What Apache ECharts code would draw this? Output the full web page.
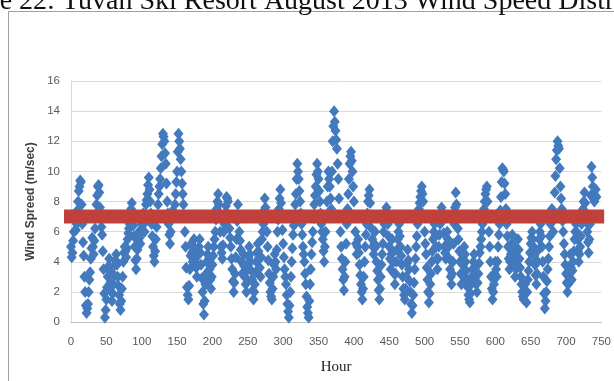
<!DOCTYPE html>
<html>
<head>
<meta charset="utf-8">
<script src="https://cdn.jsdelivr.net/npm/echarts@6/dist/echarts.min.js"></script>
<style>
  html, body { margin: 0; padding: 0; background: #ffffff; }
  #chart { width: 614px; height: 381px; }
</style>
</head>
<body>
<div id="chart"></div>
<script>
// Hourly wind speed (m/sec) for August, hour 0 onward
const speeds = [
  5.0, 4.3, 4.6, 5.4, 6.0, 6.8, 7.2, 6.1, 6.5, 7.4, 8.0, 8.7, 9.0, 9.4, 9.3, 7.8, 6.5, 5.3, 4.4, 3.0,
  2.0, 1.1, 0.6, 0.9, 1.2, 2.0, 2.8, 3.3, 4.2, 4.9, 5.6, 5.0, 4.5, 5.4, 6.2, 7.1, 7.8, 8.4, 9.0, 9.1,
  8.6, 7.6, 7.0, 6.3, 5.8, 4.7, 3.5, 1.9, 0.3, 0.8, 1.5, 2.3, 3.0, 3.7, 4.2, 3.4, 2.6, 2.0, 1.4, 1.9,
  2.5, 3.1, 3.8, 4.1, 4.5, 3.8, 3.0, 2.4, 1.8, 1.2, 0.8, 1.4, 2.2, 3.0, 4.0, 4.6, 5.0, 4.7, 4.3, 4.9,
  5.5, 5.9, 6.2, 6.5, 7.0, 7.5, 7.9, 7.1, 6.4, 5.7, 5.0, 4.1, 3.5, 4.2, 4.8, 5.4, 6.0, 5.6, 5.2, 5.9,
  6.5, 6.9, 7.2, 6.5, 6.0, 6.9, 7.8, 8.1, 8.5, 9.1, 9.6, 8.8, 8.0, 7.2, 6.5, 5.7, 5.0, 4.4, 4.0, 4.7,
  5.5, 6.3, 7.0, 7.8, 8.5, 9.0, 9.5, 10.2, 11.0, 11.8, 12.5, 12.3, 12.0, 11.2, 10.5, 9.2, 8.0, 7.2, 6.5, 5.8,
  5.2, 6.0, 6.8, 7.1, 7.4, 7.2, 7.0, 7.8, 8.5, 9.3, 10.0, 11.3, 12.5, 12.0, 11.5, 10.8, 10.0, 9.2, 8.5, 7.8,
  7.0, 6.0, 5.0, 3.6, 2.3, 1.8, 1.5, 2.4, 3.5, 4.4, 5.2, 4.6, 4.0, 4.8, 5.5, 4.9, 4.2, 3.6, 3.0, 3.8,
  4.6, 5.0, 5.5, 4.6, 3.8, 2.9, 2.0, 1.2, 0.5, 1.4, 2.5, 3.2, 4.0, 4.5, 5.0, 4.2, 3.5, 2.8, 2.2, 3.0,
  3.8, 4.4, 5.0, 5.5, 6.0, 6.8, 7.5, 8.0, 8.5, 7.8, 7.2, 6.0, 5.0, 4.6, 4.2, 5.1, 6.0, 6.5, 7.0, 7.7,
  8.3, 8.2, 8.0, 7.1, 6.2, 5.6, 5.0, 4.2, 3.5, 2.7, 2.0, 2.6, 3.2, 4.3, 5.5, 6.7, 7.8, 6.9, 6.0, 5.4,
  4.8, 4.0, 3.2, 3.9, 4.5, 3.7, 3.0, 2.5, 2.0, 2.8, 3.5, 4.3, 5.0, 4.5, 4.0, 3.4, 2.8, 2.1, 1.5, 2.0,
  2.5, 3.3, 4.0, 4.6, 5.2, 4.7, 4.3, 3.6, 3.0, 4.3, 5.5, 6.0, 6.5, 7.4, 8.2, 7.6, 7.0, 6.0, 5.0, 4.1,
  3.2, 2.6, 2.0, 1.7, 1.5, 2.2, 3.0, 3.8, 4.5, 4.0, 3.5, 4.8, 6.0, 6.8, 7.5, 8.2, 8.8, 7.9, 7.0, 6.1,
  5.2, 4.3, 3.5, 3.0, 2.5, 1.8, 1.2, 0.7, 0.3, 1.1, 2.0, 3.0, 4.0, 4.9, 5.8, 6.4, 7.0, 7.8, 8.5, 9.5,
  10.5, 10.0, 9.5, 8.7, 8.0, 7.2, 6.5, 5.8, 5.0, 4.5, 4.0, 3.2, 2.5, 1.7, 1.0, 0.6, 0.3, 1.4, 2.5, 3.5,
  4.5, 5.3, 6.0, 6.9, 7.8, 8.4, 9.0, 9.8, 10.5, 10.0, 9.5, 8.7, 8.0, 7.2, 6.5, 6.0, 5.5, 4.7, 4.0, 5.0,
  6.0, 7.0, 8.0, 9.0, 10.0, 9.5, 9.0, 8.2, 7.5, 10.0, 12.0, 13.0, 14.0, 13.3, 12.7, 12.1, 11.5, 10.5, 9.5, 8.2,
  7.0, 6.0, 5.0, 4.2, 3.5, 2.8, 2.1, 3.0, 4.0, 5.2, 6.5, 7.5, 8.5, 9.5, 10.5, 11.0, 11.3, 10.7, 10.0, 9.0,
  8.0, 7.0, 6.0, 5.2, 4.5, 5.0, 5.5, 4.6, 3.8, 3.1, 2.5, 2.0, 1.5, 2.2, 3.0, 4.0, 5.0, 5.8, 6.5, 7.2,
  8.0, 8.4, 8.8, 7.9, 7.0, 6.2, 5.5, 5.0, 4.5, 5.2, 6.0, 5.0, 4.0, 3.4, 2.8, 2.1, 1.5, 2.2, 3.0, 3.8,
  4.5, 5.2, 6.0, 6.5, 7.0, 7.3, 7.6, 7.0, 6.5, 5.7, 5.0, 4.2, 3.5, 4.5, 5.5, 4.7, 4.0, 3.2, 2.5, 3.2,
  4.0, 4.8, 5.5, 6.0, 6.5, 5.7, 5.0, 4.4, 3.8, 3.0, 2.2, 1.8, 1.5, 2.2, 3.0, 3.9, 4.8, 4.1, 3.5, 2.7,
  2.0, 1.2, 0.6, 1.1, 1.8, 2.6, 3.5, 4.2, 5.0, 5.7, 6.5, 7.0, 7.5, 7.9, 8.3, 8.7, 9.0, 8.5, 8.0, 7.0,
  6.0, 5.2, 4.5, 3.6, 2.8, 2.0, 1.3, 1.9, 2.5, 3.2, 4.0, 4.7, 5.5, 6.0, 6.5, 5.7, 5.0, 4.2, 3.5, 4.2,
  5.0, 5.8, 6.5, 7.0, 7.6, 7.2, 6.8, 5.9, 5.0, 4.6, 4.2, 5.1, 6.0, 5.5, 5.0, 4.2, 3.5, 3.0, 2.5, 3.2,
  4.0, 5.2, 6.5, 7.6, 8.6, 7.8, 7.0, 6.2, 5.5, 4.7, 4.0, 3.2, 2.5, 3.1, 3.8, 4.4, 5.0, 4.5, 4.0, 3.4,
  2.8, 2.3, 1.8, 1.5, 1.3, 1.9, 2.5, 3.0, 3.5, 4.0, 4.5, 3.7, 3.0, 2.5, 2.0, 2.6, 3.2, 3.9, 4.6, 5.0,
  5.5, 6.0, 6.5, 7.0, 7.5, 8.0, 8.5, 8.8, 9.0, 8.0, 7.0, 6.0, 5.0, 4.0, 3.0, 2.2, 1.5, 2.0, 2.5, 3.2,
  4.0, 3.5, 3.0, 4.0, 5.0, 5.8, 6.5, 7.4, 8.3, 9.3, 10.2, 10.1, 10.0, 9.2, 8.5, 7.5, 6.5, 5.7, 5.0, 4.2,
  3.5, 4.0, 4.5, 5.2, 5.8, 5.1, 4.5, 3.7, 3.0, 3.5, 4.0, 4.8, 5.5, 4.8, 4.2, 3.6, 3.0, 2.5, 2.0, 1.7,
  1.5, 2.0, 2.5, 1.9, 1.3, 2.0, 2.8, 3.4, 4.0, 4.6, 5.2, 5.6, 6.0, 5.5, 5.0, 4.4, 3.8, 3.1, 2.5, 3.2,
  4.0, 4.8, 5.5, 6.0, 6.5, 5.7, 5.0, 4.0, 3.0, 1.9, 0.9, 1.4, 2.0, 2.7, 3.5, 4.2, 5.0, 5.7, 6.5, 7.0,
  7.5, 6.7, 6.0, 7.3, 8.6, 9.7, 10.8, 11.4, 12.0, 11.7, 11.5, 10.2, 9.0, 8.2, 7.5, 6.7, 6.0, 5.2, 4.5, 3.8,
  3.2, 2.6, 2.0, 2.5, 3.0, 3.7, 4.5, 3.6, 2.8, 3.4, 4.0, 4.7, 5.5, 6.0, 6.5, 6.0, 5.5, 4.7, 4.0, 4.5,
  5.0, 5.7, 6.5, 7.0, 7.5, 8.0, 8.6, 7.9, 7.2, 6.6, 6.0, 5.3, 4.6, 5.5, 6.5, 8.4, 10.3, 9.6, 9.0, 8.5,
  8.0, 8.4, 8.8, 8.3
];

// Reference level drawn across the month
const thresholdSpeed = 7;
const thresholdHours = [0, 744];

// Axis ticks
const yTicks = { min: 0, max: 16, step: 2 };
const xTicks = { min: 0, max: 750, step: 50 };

const titleText = 'Figure 22: Tuvan Ski Resort August 2013 Wind Speed Distribution';
const yName = 'Wind Spreed (m/sec)';
const xName = 'Hour';

const points = speeds.map((v, hour) => [hour, v]);
const thresholdLine = thresholdHours.map(h => [h, thresholdSpeed]);

const chart = echarts.init(document.getElementById('chart'), null, { renderer: 'canvas' });

const tickLabel = {
  color: '#595959',
  fontFamily: 'Liberation Sans',
  fontSize: 11.5
};

chart.setOption({
  backgroundColor: '#ffffff',
  animation: false,
  graphic: [
    {
      type: 'rect',
      shape: { x: 8.5, y: 11.5, width: 700, height: 400 },
      style: { fill: 'none', stroke: '#a0a0a0', lineWidth: 1 },
      z: 0
    },
    {
      type: 'text',
      x: -61,
      y: 2,
      style: {
        text: titleText,
        font: '28px "Liberation Serif"',
        fill: '#111111',
        textVerticalAlign: 'middle'
      },
      z: 10
    }
  ],
  grid: { left: 71, right: 9, top: 81, bottom: 59 },
  xAxis: {
    type: 'value',
    min: xTicks.min,
    max: xTicks.max,
    interval: xTicks.step,
    name: xName,
    nameLocation: 'middle',
    nameGap: 38,
    nameTextStyle: { fontFamily: 'Liberation Serif', fontSize: 15, color: '#222222' },
    axisLine: { show: true, lineStyle: { color: '#bfbfbf', width: 1 } },
    axisTick: { show: false },
    splitLine: { show: false },
    axisLabel: Object.assign({ margin: 14 }, tickLabel)
  },
  yAxis: {
    type: 'value',
    min: yTicks.min,
    max: yTicks.max,
    interval: yTicks.step,
    name: yName,
    nameLocation: 'middle',
    nameGap: 26,
    nameTextStyle: { fontFamily: 'Liberation Sans', fontSize: 12, fontWeight: 'bold', color: '#404040' },
    axisLine: { show: true, lineStyle: { color: '#d9d9d9', width: 1 } },
    axisTick: { show: false },
    splitLine: { show: true, lineStyle: { color: '#d9d9d9', width: 1 } },
    axisLabel: Object.assign({ margin: 11 }, tickLabel)
  },
  series: [
    {
      type: 'scatter',
      data: points,
      symbol: 'diamond',
      symbolSize: [10, 12],
      itemStyle: { color: '#4379bd', opacity: 1 },
      z: 2
    },
    {
      type: 'line',
      data: thresholdLine,
      showSymbol: false,
      symbol: 'none',
      lineStyle: { color: '#c0403c', width: 14, cap: 'square' },
      z: 3
    }
  ]
});
</script>
</body>
</html>
